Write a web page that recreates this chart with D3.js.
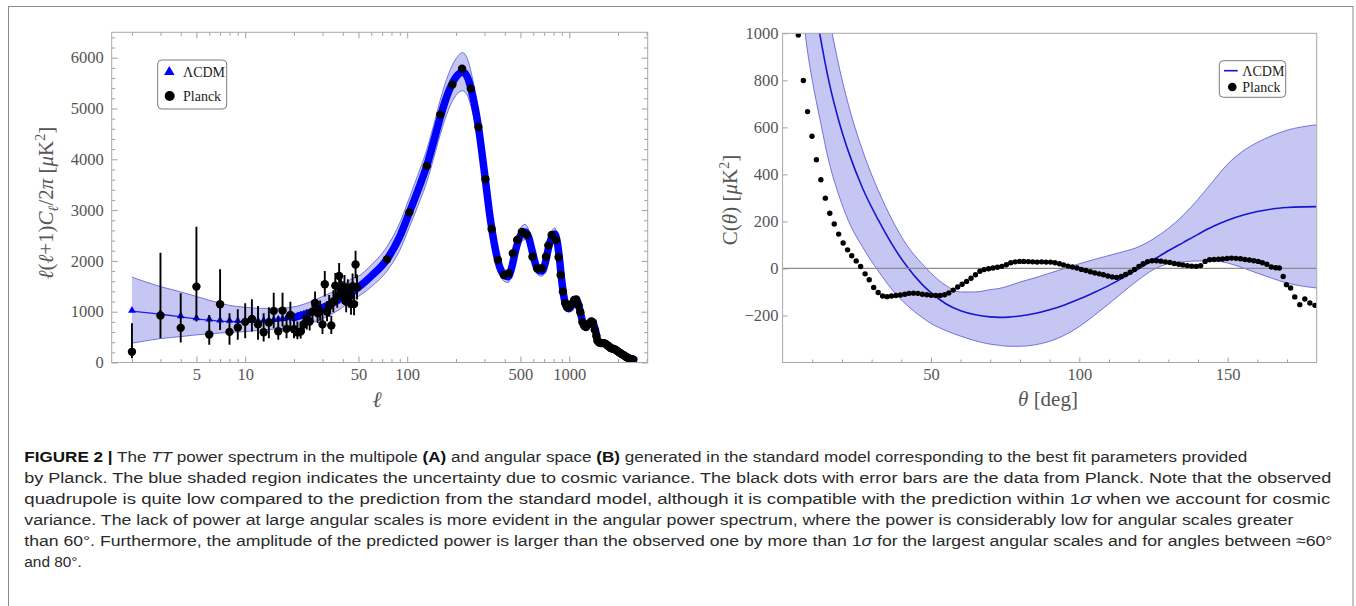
<!DOCTYPE html>
<html lang="en">
<head>
  <meta charset="UTF-8">
  <title>TT power spectrum</title>
  <script src="https://d3js.org/d3.v7.min.js"></script>
  <style>
    body { margin: 0; background: #fff; }
    svg { display: block; }
    .serif { font-family: "Liberation Serif", "Times New Roman", serif; }
    .caption { font-family: "Liberation Sans", Arial, sans-serif; font-size: 15.4px; fill: #2a2a2a; }
  </style>
</head>
<body>
<svg id="fig" width="1356" height="606"></svg>
<script>
// ---------- panel A : multipole space ----------
const lcdmEll = [2, 3, 4, 5, 6, 7, 8, 9, 10, 12, 15, 20, 25, 30, 35, 40, 46, 50, 60, 75, 90, 103, 120, 132, 150, 160, 180, 200, 220, 235, 250, 275, 300, 325, 350, 375, 400, 420, 440, 470, 500, 535, 560, 590, 620, 650, 680, 710, 750, 790, 815, 840, 870, 900, 930, 960, 1000, 1040, 1080, 1120, 1170, 1210, 1260, 1320, 1370, 1410, 1460, 1500, 1560, 1620, 1680, 1750, 1800, 1870, 1930, 2000, 2070, 2150, 2225, 2300, 2400, 2500];
const lcdmDl = [1010, 950, 900, 860, 835, 815, 810, 805, 805, 810, 830, 885, 980, 1080, 1180, 1280, 1395, 1480, 1700, 2030, 2480, 2950, 3500, 3870, 4500, 4830, 5330, 5620, 5720, 5620, 5330, 4640, 3730, 2850, 2230, 1850, 1710, 1690, 1850, 2250, 2500, 2570, 2480, 2200, 1930, 1810, 1800, 1950, 2300, 2500, 2530, 2400, 2050, 1600, 1270, 1100, 1060, 1130, 1230, 1210, 1000, 790, 700, 760, 810, 760, 600, 430, 390, 380, 370, 320, 285, 270, 250, 215, 185, 150, 120, 95, 75, 60];
const lcdmLo = [380, 470, 510, 544, 565, 580, 590, 600, 609, 630, 655, 690, 770, 860, 970, 1090, 1232, 1300, 1490, 1800, 2210, 2660, 3190, 3550, 4170, 4490, 4980, 5260, 5350, 5260, 4990, 4330, 3480, 2650, 2070, 1720, 1590, 1575, 1730, 2110, 2350, 2420, 2340, 2080, 1820, 1710, 1700, 1850, 2190, 2380, 2410, 2290, 1950, 1520, 1200, 1040, 1010, 1080, 1180, 1160, 960, 755, 670, 730, 780, 730, 575, 410, 372, 362, 353, 305, 272, 258, 238, 205, 176, 143, 114, 90, 71, 57];
const lcdmHi = [1680, 1494, 1390, 1300, 1225, 1167, 1125, 1100, 1088, 1068, 1062, 1095, 1190, 1300, 1395, 1510, 1658, 1700, 1920, 2280, 2750, 3240, 3810, 4190, 4830, 5170, 5680, 5980, 6100, 5980, 5670, 4950, 3980, 3050, 2390, 1980, 1830, 1805, 1970, 2390, 2650, 2720, 2620, 2320, 2040, 1910, 1900, 2050, 2410, 2620, 2650, 2510, 2150, 1680, 1340, 1160, 1110, 1180, 1280, 1260, 1040, 825, 730, 790, 840, 790, 625, 450, 408, 398, 387, 335, 298, 282, 262, 225, 194, 157, 126, 100, 79, 63];

// triangles of the model at the lowest multipoles
const triEll = [2, 3, 4, 5, 6, 7, 8, 9, 10, 11, 12, 13, 14, 15, 16, 17, 18, 19, 20, 21, 22, 23, 24];
const triDl = [1010, 950, 900, 860, 835, 815, 810, 805, 805, 805, 808, 812, 818, 825, 835, 845, 858, 870, 885, 900, 918, 935, 955];

// Planck, unbinned low multipoles with error bars
const lowEll = [2, 3, 4, 5, 6, 7, 8, 9, 10, 11, 12, 13, 14, 15, 16, 17, 18, 19, 20, 21, 22, 23, 24, 25, 26, 27, 28, 29, 30, 31, 32, 33, 34, 35, 36, 37, 38, 39, 40, 41, 42, 43, 44, 45, 46, 47, 48, 49];
const lowDl = [210, 924, 682, 1494, 550, 1147, 603, 688, 800, 859, 754, 597, 786, 1016, 617, 1022, 662, 937, 656, 590, 609, 754, 839, 806, 1002, 1173, 975, 1010, 750, 1540, 1000, 1110, 730, 1200, 1513, 1300, 1703, 1450, 1370, 1480, 1200, 1400, 1300, 1150, 1500, 1150, 1930, 1480];
const lowErrLo = [86, 479, 393, 806, 348, 642, 348, 446, 479, 609, 446, 413, 479, 676, 446, 707, 479, 676, 479, 459, 470, 580, 650, 630, 800, 950, 780, 820, 560, 1300, 810, 900, 560, 990, 1280, 1080, 1450, 1220, 1150, 1250, 990, 1170, 1080, 940, 1260, 930, 1660, 1240];
const lowErrHi = [774, 2161, 1363, 2672, 937, 1835, 970, 1049, 1166, 1245, 1114, 970, 1088, 1375, 904, 1375, 937, 1198, 872, 806, 800, 960, 1040, 1000, 1220, 1400, 1190, 1220, 950, 1800, 1210, 1330, 920, 1420, 1760, 1530, 1960, 1690, 1600, 1720, 1420, 1640, 1530, 1370, 1750, 1380, 2200, 1730];

// Planck, binned high multipoles
const binEll = [75, 103, 132, 160, 190, 218, 247, 275, 304, 332, 363, 395, 423, 449, 477, 510, 547, 593, 633, 676, 719, 743, 779, 828, 860, 885, 914, 945, 975, 1000, 1030, 1073, 1105, 1141, 1170, 1207, 1240, 1270, 1295, 1330, 1370, 1400, 1437, 1470, 1492, 1530, 1570, 1610, 1641, 1680, 1720, 1760, 1800, 1840, 1880, 1932, 1980, 2030, 2073, 2120, 2170, 2225, 2270, 2330, 2389, 2440, 2480];
const binDl = [2031, 2955, 3870, 4880, 5470, 5784, 5391, 4637, 3609, 2627, 2018, 1723, 1756, 2149, 2411, 2568, 2509, 2083, 1855, 1855, 2083, 2306, 2509, 2411, 2070, 1723, 1395, 1167, 1080, 1100, 1150, 1232, 1240, 1120, 990, 790, 720, 700, 741, 770, 806, 790, 642, 520, 430, 395, 385, 381, 381, 365, 340, 315, 283, 275, 268, 250, 225, 200, 185, 160, 145, 118, 105, 85, 70, 60, 53];

const ellTicksMajor = [5, 10, 50, 100, 500, 1000];
const ellTicksMinor = [2, 3, 4, 6, 7, 8, 9, 20, 30, 40, 60, 70, 80, 90, 200, 300, 400, 600, 700, 800, 900, 2000, 3000];
const dlTicks = [0, 1000, 2000, 3000, 4000, 5000, 6000];

// ---------- panel B : angular space ----------
const ctTheta = [4, 6, 8, 10, 12.5, 15.7, 19, 22.1, 27, 32.3, 37, 41.8, 47, 50, 55, 60, 65, 70, 73, 76, 80, 85, 90, 95, 100, 105, 110, 115, 120, 125, 130, 135, 140, 145, 150, 155, 160, 165, 170, 175, 180];
const ctMid = [1800, 1580, 1380, 1190, 1000, 790, 625, 500, 340, 205, 100, 10, -68, -103, -150, -180, -197, -206, -208, -207, -202, -192, -176, -155, -130, -102, -72, -38, -2, 37, 75, 110, 145, 178, 205, 226, 242, 253, 259, 262, 263];
const ctLo = [1500, 1200, 960, 800, 640, 450, 310, 205, 90, -12, -92, -155, -208, -234, -264, -288, -308, -322, -327, -331, -331, -325, -310, -284, -247, -200, -150, -98, -48, -5, 20, 28, 32, 32, 23, 3, -20, -42, -62, -75, -83];
const ctHi = [2090, 1880, 1690, 1520, 1330, 1070, 860, 700, 500, 330, 205, 100, 20, -20, -72, -100, -100, -90, -85, -75, -58, -40, -20, 0, 20, 38, 55, 72, 92, 126, 170, 226, 294, 370, 444, 498, 536, 565, 588, 602, 611];

const planckTheta = [5.3, 7.0, 8.4, 9.9, 11.4, 12.9, 14.4, 15.9, 17.4, 18.9, 20.4, 21.9, 23.3, 24.8, 26.3, 27.8, 29.2, 30.7, 32.2, 33.7, 35.2, 36.7, 38.2, 39.7, 41.2, 42.6, 44.1, 45.6, 47.1, 48.6, 50.1, 51.6, 53.1, 54.6, 56.0, 57.5, 59.0, 60.5, 62.0, 63.5, 65.0, 66.5, 67.9, 69.4, 70.9, 72.4, 73.9, 75.4, 76.9, 78.4, 79.9, 81.3, 82.8, 84.3, 85.8, 87.3, 88.8, 90.3, 91.8, 93.3, 94.7, 96.2, 97.7, 99.2, 100.7, 102.2, 103.7, 105.2, 106.7, 108.1, 109.6, 111.1, 112.6, 114.1, 115.6, 117.1, 118.6, 120.1, 121.5, 123.0, 124.5, 126.0, 127.5, 129.0, 130.5, 132.0, 133.5, 134.9, 136.4, 137.9, 139.4, 140.9, 142.4, 143.9, 145.4, 146.9, 148.3, 149.8, 151.3, 152.8, 154.3, 155.8, 157.3, 158.8, 160.3, 161.7, 163.2, 164.7, 166.2, 167.4, 168.7, 169.8, 171.2, 172.6, 174.3, 176.0, 177.7, 179.4];
const planckC = [993, 799, 667, 562, 462, 377, 299, 235, 189, 146, 108, 79, 54, 32, 8, -23, -48, -81, -102, -117, -120, -117, -115, -113, -110, -106, -105, -106, -110, -112, -114, -115, -115, -112, -104, -92, -79, -67, -55, -42, -27, -12, -5, -1, 2, 5, 9, 16, 24, 28, 30, 30, 29, 28, 27, 28, 27, 27, 24, 20, 15, 10, 6, 2, -4, -9, -14, -19, -23, -27, -32, -36, -38, -34, -26, -16, -4, 9, 20, 29, 33, 33, 31, 28, 25, 21, 18, 15, 12, 10, 9, 12, 30, 37, 38, 39, 40, 42, 44, 43, 41, 38, 36, 33, 30, 24, 18, 6, 3, 2, -34, -69, -83, -121, -154, -130, -147, -157];

const thetaTicks = [50, 100, 150];
const thetaMinor = [10, 20, 30, 40, 60, 70, 80, 90, 110, 120, 130, 140, 160, 170];
const ctTicks = [-200, 0, 200, 400, 600, 800, 1000];

// ---------- caption ----------
const captionLines = [
  [["FIGURE 2 |", "b"], [" The "], ["TT", "i"], [" power spectrum in the multipole "], ["(A)", "b"], [" and angular space "], ["(B)", "b"], [" generated in the standard model corresponding to the best fit parameters provided"]],
  [["by Planck. The blue shaded region indicates the uncertainty due to cosmic variance. The black dots with error bars are the data from Planck. Note that the observed"]],
  [["quadrupole is quite low compared to the prediction from the standard model, although it is compatible with the prediction within 1"], ["σ", "i"], [" when we account for cosmic"]],
  [["variance. The lack of power at large angular scales is more evident in the angular power spectrum, where the power is considerably low for angular scales greater"]],
  [["than 60°. Furthermore, the amplitude of the predicted power is larger than the observed one by more than 1"], ["σ", "i"], [" for the largest angular scales and for angles between ≈60°"]],
  [["and 80°."]]
];
const captionWidths = [1223, 1307, 1306, 1269, 1308, null];

const svg = d3.select("#fig");
const serif = "'Liberation Serif','Times New Roman',serif";
const bandFill = "#c6c6f3";
const bandEdge = "#5555d6";
const fmt = d3.format("d");

svg.append("rect")
  .attr("x", 8.5).attr("y", 6.5).attr("width", 1344.5).attr("height", 640)
  .attr("fill", "none").attr("stroke", "#8a8a8a").attr("stroke-width", 1);

function styleAxis(g, size) {
  g.select(".domain").remove();
  g.selectAll(".tick line").attr("stroke", "#a0a0a0");
  g.selectAll(".tick text")
    .attr("fill", "#555")
    .style("font-family", serif)
    .style("font-size", (size || 16.5) + "px");
}

// ===== panel A =====
const xL = d3.scaleLog().domain([1.5, 3050]).range([111.7, 647.7]);
const yL = d3.scaleLinear().domain([0, 6500]).range([362.5, 32.3]);

svg.append("defs").append("clipPath").attr("id", "clipA")
  .append("rect")
  .attr("x", xL.range()[0]).attr("y", yL.range()[1])
  .attr("width", xL.range()[1] - xL.range()[0])
  .attr("height", yL.range()[0] - yL.range()[1]);

const gA = svg.append("g");

gA.append("g").attr("transform", `translate(0,${yL.range()[0]})`)
  .call(d3.axisBottom(xL).tickValues(ellTicksMajor).tickFormat(fmt).tickSizeInner(-6).tickSizeOuter(0).tickPadding(6))
  .call(styleAxis);
gA.append("g").attr("transform", `translate(0,${yL.range()[0]})`)
  .call(d3.axisBottom(xL).tickValues(ellTicksMinor).tickFormat("").tickSizeInner(-3.5).tickSizeOuter(0))
  .call(styleAxis);
gA.append("g").attr("transform", `translate(0,${yL.range()[1]})`)
  .call(d3.axisTop(xL).tickValues(ellTicksMajor).tickFormat("").tickSizeInner(-6).tickSizeOuter(0))
  .call(styleAxis);
gA.append("g").attr("transform", `translate(0,${yL.range()[1]})`)
  .call(d3.axisTop(xL).tickValues(ellTicksMinor).tickFormat("").tickSizeInner(-3.5).tickSizeOuter(0))
  .call(styleAxis);

const dlMinor = d3.range(200, 6500, 200).filter(v => v % 1000 !== 0);
gA.append("g").attr("transform", `translate(${xL.range()[0]},0)`)
  .call(d3.axisLeft(yL).tickValues(dlTicks).tickFormat(fmt).tickSizeInner(-6).tickSizeOuter(0).tickPadding(8))
  .call(styleAxis);
gA.append("g").attr("transform", `translate(${xL.range()[0]},0)`)
  .call(d3.axisLeft(yL).tickValues(dlMinor).tickFormat("").tickSizeInner(-3.5).tickSizeOuter(0))
  .call(styleAxis);
gA.append("g").attr("transform", `translate(${xL.range()[1]},0)`)
  .call(d3.axisRight(yL).tickValues(dlTicks).tickFormat("").tickSizeInner(-6).tickSizeOuter(0))
  .call(styleAxis);
gA.append("g").attr("transform", `translate(${xL.range()[1]},0)`)
  .call(d3.axisRight(yL).tickValues(dlMinor).tickFormat("").tickSizeInner(-3.5).tickSizeOuter(0))
  .call(styleAxis);

const lcdm = lcdmEll.map((l, i) => ({ell: l, v: lcdmDl[i], lo: lcdmLo[i], hi: lcdmHi[i]}));
const plotA = gA.append("g").attr("clip-path", "url(#clipA)");

plotA.append("path")
  .attr("d", d3.area().x(d => xL(d.ell)).y0(d => yL(d.lo)).y1(d => yL(d.hi)).curve(d3.curveMonotoneX)(lcdm))
  .attr("fill", bandFill);
["lo", "hi"].forEach(k => {
  plotA.append("path")
    .attr("d", d3.line().x(d => xL(d.ell)).y(d => yL(d[k])).curve(d3.curveMonotoneX)(lcdm))
    .attr("fill", "none").attr("stroke", bandEdge).attr("stroke-width", 0.8);
});

const lineA = d3.line().x(d => xL(d.ell)).y(d => yL(d.v)).curve(d3.curveMonotoneX);
plotA.append("path").attr("d", lineA(lcdm))
  .attr("fill", "none").attr("stroke", "#2020e0").attr("stroke-width", 1.3);
plotA.append("path").attr("d", lineA(lcdm.filter(d => d.ell >= 20)))
  .attr("fill", "none").attr("stroke", "#0000ff").attr("stroke-width", 7.5)
  .attr("stroke-linejoin", "round").attr("stroke-linecap", "round");

plotA.selectAll(".tri")
  .data(triEll.map((l, i) => ({ell: l, v: triDl[i]})))
  .join("path")
  .attr("transform", d => `translate(${xL(d.ell)},${yL(d.v) - 0.8})`)
  .attr("d", d3.symbol(d3.symbolTriangle, 26))
  .attr("fill", "#0000ff");

const low = lowEll.map((l, i) => ({ell: l, v: lowDl[i], lo: lowErrLo[i], hi: lowErrHi[i]}));
plotA.selectAll(".err")
  .data(low)
  .join("line")
  .attr("x1", d => xL(d.ell)).attr("x2", d => xL(d.ell))
  .attr("y1", d => yL(d.lo)).attr("y2", d => yL(d.hi))
  .attr("stroke", "#000").attr("stroke-width", 1.9);

const dotsA = low.concat(binEll.map((l, i) => ({ell: l, v: binDl[i]})));
plotA.selectAll(".pt")
  .data(dotsA)
  .join("circle")
  .attr("cx", d => xL(d.ell)).attr("cy", d => yL(d.v))
  .attr("r", 4.2).attr("fill", "#000");

gA.append("rect")
  .attr("x", xL.range()[0]).attr("y", yL.range()[1])
  .attr("width", xL.range()[1] - xL.range()[0])
  .attr("height", yL.range()[0] - yL.range()[1])
  .attr("fill", "none").attr("stroke", "#a8a8a8").attr("stroke-width", 1);

// axis titles A
const yTitleA = gA.append("text")
  .attr("class", "serif")
  .attr("transform", "translate(53,203) rotate(-90)")
  .attr("text-anchor", "middle")
  .attr("fill", "#555").style("font-size", "21px");
[["ℓ", "i"], ["(", ""], ["ℓ", "i"], ["+1)", ""], ["C", "i"], ["ℓ", "sub"], ["/2", ""], ["π", "i"], [" [", ""], ["μ", "i"], ["K", ""], ["2", "sup"], ["]", ""]]
  .forEach(([t, s], i, arr) => {
    const ts = yTitleA.append("tspan").text(t);
    if (s === "i" || s === "sub") ts.style("font-style", "italic");
    if (s === "sub") ts.attr("dy", 5).style("font-size", "14px");
    if (s === "sup") ts.attr("dy", -8).style("font-size", "14px");
    const prev = arr[i - 1];
    if (prev && prev[1] === "sub") ts.attr("dy", -5);
    if (prev && prev[1] === "sup") ts.attr("dy", 8);
  });

gA.append("text").attr("class", "serif")
  .attr("x", 377).attr("y", 407).attr("text-anchor", "middle")
  .attr("fill", "#555").style("font-size", "22px").style("font-style", "italic")
  .text("ℓ");

// legend A
const legA = gA.append("g");
legA.append("rect").attr("x", 157.7).attr("y", 60).attr("width", 69).attr("height", 49).attr("rx", 4)
  .attr("fill", "#fff").attr("stroke", "#7a7a7a").attr("stroke-width", 1);
legA.append("path").attr("transform", "translate(169.3,72)")
  .attr("d", d3.symbol(d3.symbolTriangle, 48)).attr("fill", "#0000ff");
legA.append("circle").attr("cx", 169.7).attr("cy", 96).attr("r", 5).attr("fill", "#000");
legA.selectAll("text").data(["ΛCDM", "Planck"]).join("text")
  .attr("class", "serif")
  .attr("x", 183).attr("y", (d, i) => 77 + i * 24)
  .attr("fill", "#222").style("font-size", "14px")
  .text(d => d);

// ===== panel B =====
const xR = d3.scaleLinear().domain([0, 180]).range([782.6, 1316.7]);
const yR = d3.scaleLinear().domain([-400, 1000]).range([362.5, 33.3]);

svg.select("defs").append("clipPath").attr("id", "clipB")
  .append("rect")
  .attr("x", xR.range()[0]).attr("y", yR.range()[1])
  .attr("width", xR.range()[1] - xR.range()[0])
  .attr("height", yR.range()[0] - yR.range()[1]);

const gB = svg.append("g");

gB.append("g").attr("transform", `translate(0,${yR.range()[0]})`)
  .call(d3.axisBottom(xR).tickValues(thetaTicks).tickFormat(fmt).tickSizeInner(-5).tickSizeOuter(0).tickPadding(6))
  .call(styleAxis);
gB.append("g").attr("transform", `translate(0,${yR.range()[0]})`)
  .call(d3.axisBottom(xR).tickValues(thetaMinor).tickFormat("").tickSizeInner(-3).tickSizeOuter(0))
  .call(styleAxis);
gB.append("g").attr("transform", `translate(${xR.range()[0]},0)`)
  .call(d3.axisLeft(yR).tickValues(ctTicks).tickFormat(fmt).tickSizeInner(-5).tickSizeOuter(0).tickPadding(4))
  .call(styleAxis);

const ct = ctTheta.map((t, i) => ({t, v: ctMid[i], lo: ctLo[i], hi: ctHi[i]}));
const plotB = gB.append("g").attr("clip-path", "url(#clipB)");

plotB.append("path")
  .attr("d", d3.area().x(d => xR(d.t)).y0(d => yR(d.lo)).y1(d => yR(d.hi)).curve(d3.curveMonotoneX)(ct))
  .attr("fill", bandFill);
["lo", "hi"].forEach(k => {
  plotB.append("path")
    .attr("d", d3.line().x(d => xR(d.t)).y(d => yR(d[k])).curve(d3.curveMonotoneX)(ct))
    .attr("fill", "none").attr("stroke", bandEdge).attr("stroke-width", 0.8);
});
plotB.append("path")
  .attr("d", d3.line().x(d => xR(d.t)).y(d => yR(d.v)).curve(d3.curveMonotoneX)(ct))
  .attr("fill", "none").attr("stroke", "#1616cc").attr("stroke-width", 1.6);

plotB.append("line")
  .attr("x1", xR.range()[0]).attr("x2", xR.range()[1])
  .attr("y1", yR(0)).attr("y2", yR(0))
  .attr("stroke", "#8c8c8c").attr("stroke-width", 1.2);

plotB.selectAll(".pt")
  .data(planckTheta.map((t, i) => ({t, v: planckC[i]})))
  .join("circle")
  .attr("cx", d => xR(d.t)).attr("cy", d => yR(d.v))
  .attr("r", 2.7).attr("fill", "#000");

gB.append("rect")
  .attr("x", xR.range()[0]).attr("y", yR.range()[1])
  .attr("width", xR.range()[1] - xR.range()[0])
  .attr("height", yR.range()[0] - yR.range()[1])
  .attr("fill", "none").attr("stroke", "#a8a8a8").attr("stroke-width", 1);

const yTitleB = gB.append("text")
  .attr("class", "serif")
  .attr("transform", "translate(737,200) rotate(-90)")
  .attr("text-anchor", "middle")
  .attr("fill", "#555").style("font-size", "21px");
[["C(", ""], ["θ", "i"], [") [", ""], ["μ", "i"], ["K", ""], ["2", "sup"], ["]", ""]]
  .forEach(([t, s], i, arr) => {
    const ts = yTitleB.append("tspan").text(t);
    if (s === "i") ts.style("font-style", "italic");
    if (s === "sup") ts.attr("dy", -8).style("font-size", "14px");
    const prev = arr[i - 1];
    if (prev && prev[1] === "sup") ts.attr("dy", 8);
  });

const xTitleB = gB.append("text").attr("class", "serif")
  .attr("x", 1048).attr("y", 406).attr("text-anchor", "middle")
  .attr("fill", "#555").style("font-size", "21px");
xTitleB.append("tspan").style("font-style", "italic").text("θ");
xTitleB.append("tspan").text(" [deg]");

// legend B
const legB = gB.append("g");
legB.append("rect").attr("x", 1219.3).attr("y", 60.7).attr("width", 66.4).attr("height", 36.6).attr("rx", 4)
  .attr("fill", "#fff").attr("stroke", "#7a7a7a").attr("stroke-width", 1);
legB.append("line").attr("x1", 1224).attr("x2", 1237.7).attr("y1", 70.7).attr("y2", 70.7)
  .attr("stroke", "#1616cc").attr("stroke-width", 1.6);
legB.append("circle").attr("cx", 1232.3).attr("cy", 87).attr("r", 4.3).attr("fill", "#000");
legB.selectAll("text").data(["ΛCDM", "Planck"]).join("text")
  .attr("class", "serif")
  .attr("x", 1242.3).attr("y", (d, i) => 75.5 + i * 16.5)
  .attr("fill", "#222").style("font-size", "14px")
  .text(d => d);

// ===== caption =====
captionLines.forEach((segs, i) => {
  const t = svg.append("text")
    .attr("class", "caption")
    .attr("x", 24.3).attr("y", 462.3 + i * 21);
  if (captionWidths[i]) t.attr("textLength", captionWidths[i]).attr("lengthAdjust", "spacingAndGlyphs");
  segs.forEach(([s, f]) => {
    const ts = t.append("tspan").text(s);
    if (f === "b") ts.style("font-weight", "bold").attr("fill", "#111");
    if (f === "i") ts.style("font-style", "italic");
  });
});
</script>
</body>
</html>
